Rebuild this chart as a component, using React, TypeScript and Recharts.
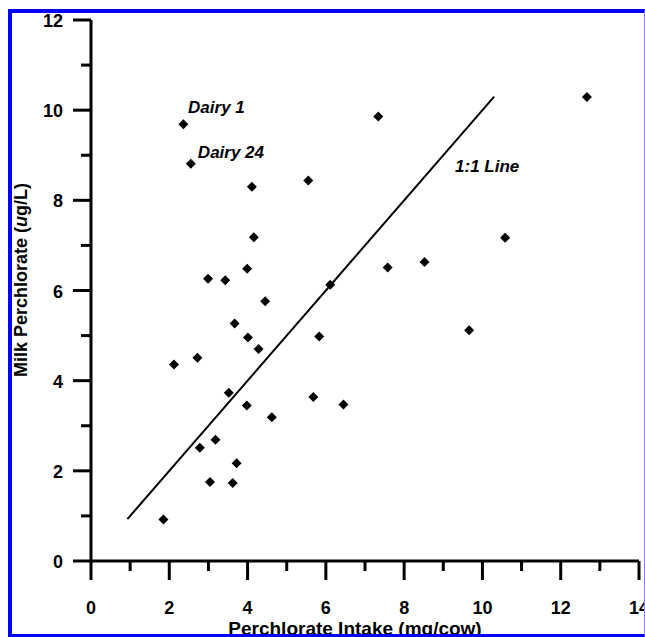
import { ScatterChart, Scatter, XAxis, YAxis, ReferenceLine, ReferenceDot } from "recharts";

const intake = [
  2.36, 2.55, 7.34, 12.67, 4.11, 5.55, 4.16, 10.58, 3.99, 2.99, 3.43, 6.11, 7.58, 8.52, 4.45, 3.67, 4.01,
  5.83, 4.28, 2.72, 2.12, 9.66, 3.52, 3.98, 5.68, 6.45, 4.62, 3.18, 2.78, 3.72, 3.04, 3.62, 1.85,
];
const milk = [
  9.69, 8.81, 9.86, 10.29, 8.3, 8.44, 7.18, 7.17, 6.48, 6.26, 6.23, 6.13, 6.51, 6.63, 5.76, 5.27, 4.96,
  4.98, 4.7, 4.51, 4.36, 5.12, 3.73, 3.45, 3.64, 3.47, 3.19, 2.69, 2.51, 2.17, 1.75, 1.73, 0.92,
];
const xTicks = [0, 1, 2, 3, 4, 5, 6, 7, 8, 9, 10, 11, 12, 13, 14];
const yTicks = [0, 1, 2, 3, 4, 5, 6, 7, 8, 9, 10, 11, 12];
const lineFrom = 0.93;
const lineTo = 10.3;
const noteText = ["Dairy 1", "Dairy 24", "1:1 Line"];
const noteX = [2.48, 2.73, 9.3];
const noteY = [10.07, 9.07, 8.74];

const points = intake.map((x, i) => ({ x, y: milk[i] }));
const font = "'Liberation Sans', Arial, sans-serif";

function Diamond(props: any) {
  const { cx, cy } = props;
  const r = 5;
  return <polygon points={`${cx},${cy - r} ${cx + r},${cy} ${cx},${cy + r} ${cx - r},${cy}`} fill="#000" />;
}

function XTick({ x, y, payload }: any) {
  const major = payload.value % 2 === 0;
  return (
    <g>
      <line x1={x} x2={x} y1={y} y2={y + (major ? 19 : 10)} stroke="#000" strokeWidth={3} />
      {major && (
        <text x={x} y={y + 47} textAnchor="middle" dominantBaseline="central" fontFamily={font} fontWeight="bold" fontSize={18} fill="#000">
          {payload.value}
        </text>
      )}
    </g>
  );
}

function YTick({ x, y, payload }: any) {
  const major = payload.value % 2 === 0;
  return (
    <g>
      <line x1={x - (major ? 18 : 10)} x2={x} y1={y} y2={y} stroke="#000" strokeWidth={3} />
      {major && (
        <text x={x - 28} y={y + 1} textAnchor="end" dominantBaseline="central" fontFamily={font} fontWeight="bold" fontSize={18} fill="#000">
          {payload.value}
        </text>
      )}
    </g>
  );
}

export default function App() {
  return (
    <div style={{ position: "absolute", left: 0, top: 0, width: 645, height: 637, background: "#fff", overflow: "hidden" }}>
      <ScatterChart width={645} height={637} margin={{ top: 20, right: 6, bottom: 0, left: 0 }}>
        <XAxis
          type="number"
          dataKey="x"
          domain={[0, 14]}
          ticks={xTicks}
          interval={0}
          height={76}
          tickSize={0}
          tickMargin={0}
          tick={<XTick />}
          axisLine={{ stroke: "#000", strokeWidth: 3 }}
          label={{
            content: () => (
              <text x={355} y={635} textAnchor="middle" fontFamily={font} fontWeight="bold" fontSize={19} fill="#000">
                Perchlorate Intake (mg/cow)
              </text>
            ),
          }}
        />
        <YAxis
          type="number"
          dataKey="y"
          domain={[0, 12]}
          ticks={yTicks}
          interval={0}
          width={91}
          tickSize={0}
          tickMargin={0}
          tick={<YTick />}
          axisLine={{ stroke: "#000", strokeWidth: 3 }}
          label={{
            content: () => (
              <text x={21} y={280} transform="rotate(-90 21 280)" textAnchor="middle" dominantBaseline="central" fontFamily={font} fontWeight="bold" fontSize={18} fill="#000">
                Milk Perchlorate (<tspan fontStyle="italic">u</tspan>g/L)
              </text>
            ),
          }}
        />
        <ReferenceLine
          segment={[
            { x: lineFrom, y: lineFrom },
            { x: lineTo, y: lineTo },
          ]}
          stroke="#000"
          strokeWidth={2}
        />
        <Scatter data={points} shape={<Diamond />} isAnimationActive={false} />
        {noteText.map((t, i) => (
          <ReferenceDot
            key={t}
            x={noteX[i]}
            y={noteY[i]}
            r={0}
            shape={(p: any) => (
              <text x={p.cx} y={p.cy} dominantBaseline="central" fontFamily={font} fontWeight="bold" fontStyle="italic" fontSize={17} fill="#000">
                {t}
              </text>
            )}
          />
        ))}
      </ScatterChart>
      <div
        style={{
          position: "absolute",
          left: 8,
          top: 9,
          width: 637,
          height: 628,
          boxSizing: "border-box",
          borderLeft: "4px solid #0000ff",
          borderTop: "4px solid #0000ff",
          borderBottom: "3px solid #0000ff",
          borderRight: "1px solid #8080ff",
          pointerEvents: "none",
        }}
      />
    </div>
  );
}
